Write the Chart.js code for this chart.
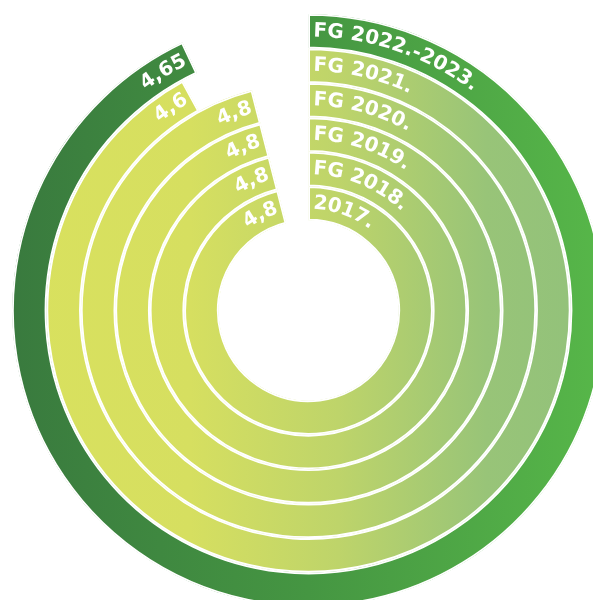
<!DOCTYPE html>
<html>
<head>
<meta charset="utf-8">
<script src="https://cdn.jsdelivr.net/npm/chart.js@4.4.1/dist/chart.umd.min.js"></script>
<style>
  html, body { margin: 0; padding: 0; background: #fff; overflow: hidden; }
  #wrap { position: absolute; left: 0; top: 0; width: 620px; height: 620px; }
</style>
</head>
<body>
<div id="wrap"><canvas id="ringChart" width="620" height="620"></canvas></div>
<script>
// Rings, outermost first
const ringLabels = ['FG 2022.-2023.', 'FG 2021.', 'FG 2020.', 'FG 2019.', 'FG 2018.', '2017.'];
const scores = [4.65, 4.6, 4.8, 4.8, 4.8, 4.8];
const scoreLabels = ['4,65', '4,6', '4,8', '4,8', '4,8', '4,8'];
const scaleMax = 5;

const LABEL_FONT = 'bold 20px "DejaVu Sans"';

// gradients are horizontal over the whole chart
let gradCache = {};
function ringGradient(chart, outer) {
    const area = chart.chartArea;
    if (!area) return outer ? '#469843' : '#c4d866';
    const key = (outer ? 'o' : 'i') + area.left + ':' + area.right;
    if (gradCache[key]) return gradCache[key];
    const g = chart.ctx.createLinearGradient(12, 0, 605, 0);
    if (outer) {
        g.addColorStop(0, '#397a3e');
        g.addColorStop(0.5, '#459642');
        g.addColorStop(1, '#57b749');
    } else {
        g.addColorStop(0, '#d9e15e');
        g.addColorStop(0.3, '#d6df60');
        g.addColorStop(0.55, '#bed46a');
        g.addColorStop(0.8, '#98c478');
        g.addColorStop(1, '#91c17b');
    }
    gradCache[key] = g;
    return g;
}

// draw text along an arc; angle measured from 12 o'clock, clockwise
function arcText(ctx, text, cx, cy, r, angle, align, spacing) {
    const widths = [...text].map(ch => ctx.measureText(ch).width);
    const total = widths.reduce((a, b) => a + b, 0) + spacing * (widths.length - 1);
    let a = align === 'end' ? angle - total / r : angle;
    [...text].forEach((ch, i) => {
        const w = widths[i];
        const mid = a + (w / 2) / r;
        ctx.save();
        ctx.translate(cx, cy);
        ctx.rotate(mid);
        ctx.fillText(ch, 0, -r);
        ctx.restore();
        a += (w + spacing) / r;
    });
}

const ringText = {
    id: 'ringText',
    afterDatasetsDraw(chart) {
        const ctx = chart.ctx;
        ctx.save();
        ctx.font = LABEL_FONT;
        ctx.fillStyle = '#ffffff';
        ctx.textAlign = 'center';
        ctx.textBaseline = 'middle';
        chart.data.datasets.forEach((ds, i) => {
            const arc = chart.getDatasetMeta(i).data[0];
            const p = arc.getProps(['x', 'y', 'startAngle', 'endAngle', 'innerRadius', 'outerRadius'], true);
            const r = (p.innerRadius + p.outerRadius) / 2;
            const start = p.startAngle + Math.PI / 2;
            const end = p.endAngle + Math.PI / 2;
            arcText(ctx, ringLabels[i], p.x, p.y, r, start + 5 / r, 'start', 0.2);
            arcText(ctx, scoreLabels[i], p.x, p.y, r, end - 5 / r, 'end', 0.2);
        });
        ctx.restore();
    }
};

new Chart(document.getElementById('ringChart'), {
    type: 'doughnut',
    data: {
        labels: ['score', 'rest'],
        datasets: scores.map((v, i) => ({
            label: ringLabels[i],
            data: [v, scaleMax - v],
            backgroundColor: c => c.dataIndex === 1 ? 'rgba(0,0,0,0)' : ringGradient(c.chart, c.datasetIndex === 0),
            borderColor: '#ffffff',
            borderWidth: [1.5, 0],
            borderAlign: 'inner',
            hoverOffset: 0
        }))
    },
    options: {
        responsive: false,
        animation: false,
        radius: 296.5,
        cutout: '30.3%',
        clip: false,
        layout: { padding: { left: 0, right: 3, top: 1, bottom: 0 } },
        plugins: {
            legend: { display: false },
            tooltip: { enabled: false }
        }
    },
    plugins: [ringText]
});
</script>
</body>
</html>
